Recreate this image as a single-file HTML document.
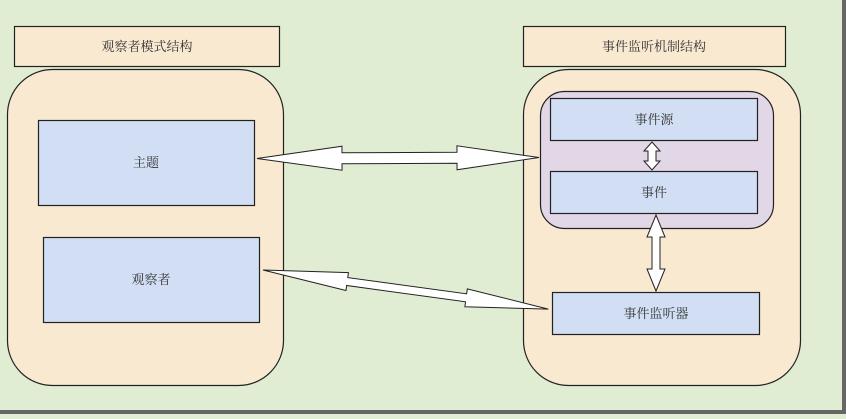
<!DOCTYPE html>
<html><head><meta charset="utf-8"><style>
html,body{margin:0;padding:0;background:#e1edd2;}
body{width:846px;height:414px;overflow:hidden;}
text{font-family:"Liberation Serif","Noto Serif CJK SC","Noto Sans CJK SC",serif;font-size:13px;fill:#333;}
</style></head><body>
<svg width="846" height="414" xmlns="http://www.w3.org/2000/svg">
<rect x="0" y="0" width="846" height="414" fill="#e1edd2"/>
<rect x="842" y="0" width="4" height="414" fill="#666"/>
<rect x="0" y="410" width="846" height="4" fill="#666"/>
<g stroke="#222" stroke-width="1.2">
<rect x="14.5" y="26.5" width="265" height="40" fill="#f9e9d1"/>
<rect x="7.5" y="69.5" width="276" height="316" rx="45" fill="#f9e9d1"/>
<rect x="38.5" y="120.5" width="216" height="85" fill="#d2def4"/>
<rect x="43.5" y="237.5" width="216" height="85" fill="#d2def4"/>
<rect x="523.5" y="26.5" width="262" height="40" fill="#f9e9d1"/>
<rect x="523.5" y="69.5" width="277" height="316" rx="45" fill="#f9e9d1"/>
<rect x="540.5" y="91.5" width="233" height="137" rx="24" fill="#e1d7e6"/>
<rect x="550.5" y="98.5" width="207" height="42" fill="#d2def4"/>
<rect x="550.5" y="171.5" width="207" height="42" fill="#d2def4"/>
<rect x="552.5" y="292.5" width="207" height="42" fill="#d2def4"/>
</g>
<g fill="#fff" stroke="#222" stroke-width="1">
<!-- arrow1 -->
<polygon transform="translate(257,158.5) rotate(-0.2)" points="0,0 85,-12 85,-5.5 200,-5.5 200,-12 282,0 200,12 200,5.5 85,5.5 85,12"/>
<!-- arrow2 -->
<polygon transform="translate(263,270) rotate(7.8)" points="0,0 85,-9 85,-4 205,-4 205,-9 288,0 205,9 205,4 85,4 85,9"/>
<!-- small vertical -->
<polygon transform="translate(652,142) rotate(90)" points="0,0 9,-8 9,-4 19,-4 19,-8 28,0 19,8 19,4 9,4 9,8"/>
<!-- big vertical -->
<polygon transform="translate(656,215) rotate(90)" points="0,0 22,-9 22,-4 54,-4 54,-9 76,0 54,9 54,4 22,4 22,9"/>
</g>
<text x="147" y="51" text-anchor="middle">观察者模式结构</text>
<text x="146" y="167" text-anchor="middle">主题</text>
<text x="151" y="284" text-anchor="middle">观察者</text>
<text x="654" y="51" text-anchor="middle">事件监听机制结构</text>
<text x="654" y="124" text-anchor="middle">事件源</text>
<text x="654" y="197" text-anchor="middle">事件</text>
<text x="656" y="318" text-anchor="middle">事件监听器</text>
</svg>
</body></html>
